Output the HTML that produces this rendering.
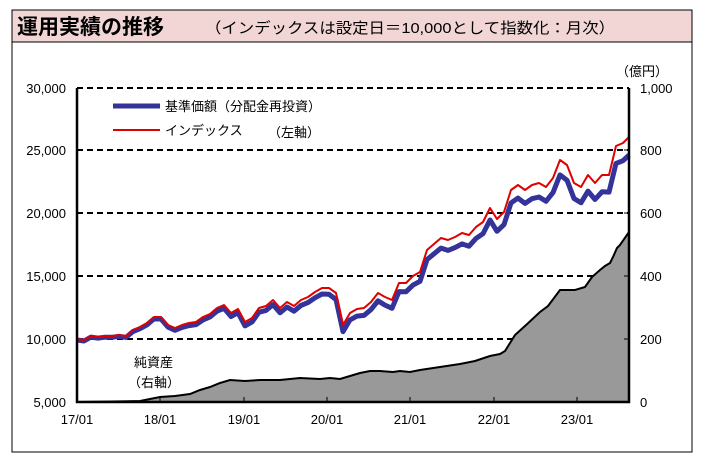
<!DOCTYPE html>
<html><head><meta charset="utf-8"><style>
body{margin:0;background:#fff;width:702px;height:455px;overflow:hidden;font-family:"Liberation Sans","Noto Sans CJK JP",sans-serif}
</style></head><body>
<svg width="702" height="455" viewBox="0 0 702 455" xmlns="http://www.w3.org/2000/svg" font-family="Liberation Sans, Noto Sans CJK JP, sans-serif">
<rect x="12" y="10" width="680" height="32" fill="#f2d6d6" stroke="#000" stroke-width="1"/>
<rect x="12" y="42" width="680" height="410" fill="#fff" stroke="#000" stroke-width="1"/>
<text x="17" y="34" font-size="21" font-weight="bold" fill="#000">運用実績の推移</text>
<text x="205" y="33" font-size="15" fill="#000" textLength="410" lengthAdjust="spacingAndGlyphs">（インデックスは設定日＝10,000として指数化：月次）</text>
<g stroke="#000" stroke-width="2" stroke-dasharray="6,4">
<line x1="77" y1="88" x2="629" y2="88"/>
<line x1="77" y1="150" x2="629" y2="150"/>
<line x1="77" y1="213" x2="629" y2="213"/>
<line x1="77" y1="276" x2="629" y2="276"/>
<line x1="77" y1="339" x2="629" y2="339"/>
</g>
<polygon id="area" fill="#999" stroke="#000" stroke-width="2" points=""/>
<polyline id="blue" fill="none" stroke="#33339a" stroke-width="5" stroke-linejoin="round" points=""/>
<polyline id="red" fill="none" stroke="#e00000" stroke-width="2" stroke-linejoin="round" points=""/>
<g stroke="#000" stroke-width="2.5" fill="none"><polyline points="77,88 77,402 629,402 629,88"/></g>
<g stroke="#000" stroke-width="1">
<line x1="160" y1="402" x2="160" y2="397"/><line x1="244" y1="402" x2="244" y2="397"/><line x1="327" y1="402" x2="327" y2="397"/><line x1="410" y1="402" x2="410" y2="397"/><line x1="494" y1="402" x2="494" y2="397"/><line x1="577" y1="402" x2="577" y2="397"/>
<line x1="624" y1="150" x2="629" y2="150"/><line x1="624" y1="213" x2="629" y2="213"/><line x1="624" y1="276" x2="629" y2="276"/><line x1="624" y1="339" x2="629" y2="339"/>
</g>
<g font-size="13" fill="#000" text-anchor="end">
<text x="66" y="93">30,000</text><text x="66" y="155">25,000</text><text x="66" y="218">20,000</text><text x="66" y="281">15,000</text><text x="66" y="344">10,000</text><text x="66" y="407">5,000</text>
</g>
<g font-size="13" fill="#000" text-anchor="start">
<text x="640" y="93">1,000</text><text x="640" y="155">800</text><text x="640" y="218">600</text><text x="640" y="281">400</text><text x="640" y="344">200</text><text x="640" y="407">0</text>
<text x="616" y="76">（億円）</text>
</g>
<g font-size="13" fill="#000" text-anchor="middle">
<text x="77" y="424">17/01</text><text x="160" y="424">18/01</text><text x="244" y="424">19/01</text><text x="327" y="424">20/01</text><text x="410" y="424">21/01</text><text x="494" y="424">22/01</text><text x="577" y="424">23/01</text>
</g>
<line x1="113" y1="106" x2="160" y2="106" stroke="#33339a" stroke-width="5"/>
<text x="165" y="111" font-size="13">基準価額（分配金再投資）</text>
<line x1="113" y1="130" x2="160" y2="130" stroke="#e00000" stroke-width="2"/>
<text x="165" y="135" font-size="13">インデックス</text>
<text x="268" y="137" font-size="13">（左軸）</text>
<text x="134" y="367" font-size="13">純資産</text>
<text x="128" y="387" font-size="13">（右軸）</text>
</svg>
<script>
var r=[[77,339],[84,340],[91,336],[98,337],[105,336],[112,336],[119,335],[126,336],[133,330],[140,327],[147,323],[154,317],[161,317],[168,325],[175,328],[182,325],[189,323],[196,322],[203,317],[210,314],[217,308],[224,305],[231,313],[238,309],[245,322],[252,318],[259,308],[266,306],[273,300],[280,308],[287,302],[294,306],[301,300],[308,297],[315,292],[322,288],[329,288],[336,293],[343,325],[350,313],[357,309],[364,308],[371,302],[378,293],[385,297],[392,300],[399,283],[406,283],[413,276],[420,272],[427,250],[434,244],[441,238],[448,240],[455,237],[462,233],[469,235],[476,227],[483,222],[490,208],[497,219],[504,212],[511,190],[518,185],[525,190],[532,185],[539,183],[546,187],[553,178],[560,160],[567,165],[574,183],[581,187],[588,175],[595,183],[602,175],[609,175],[616,146],[623,143],[629,137]];
var a=[[77,402],[140,401],[150,399],[160,397],[175,396],[190,394],[200,390],[210,387],[220,383],[230,380],[245,381],[260,380],[280,380],[300,378],[320,379],[330,378],[340,379],[350,376],[360,373],[370,371],[380,371],[393,372],[400,371],[410,372],[420,370],[440,367],[460,364],[475,361],[490,356],[500,354],[505,351],[515,335],[525,326],[540,312],[548,306],[560,290],[575,290],[585,287],[592,277],[600,270],[605,266],[610,263],[613,257],[617,248],[620,245],[629,232]];
document.getElementById('red').setAttribute('points',r.map(p=>p.join(',')).join(' '));
document.getElementById('blue').setAttribute('points',r.map(p=>{var t=(p[0]-77)/552;return p[0]+','+(p[1]+1+17*Math.pow(t,1.5)).toFixed(1)}).join(' '));
document.getElementById('area').setAttribute('points',a.map(p=>p.join(',')).join(' ')+' 629,402 77,402');
</script>
</body></html>
